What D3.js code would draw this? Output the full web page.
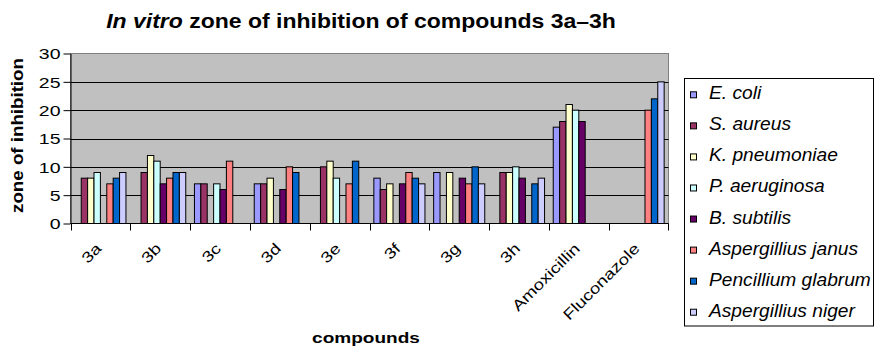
<!DOCTYPE html>
<html>
<head>
<meta charset="utf-8">
<script src="https://cdn.jsdelivr.net/npm/d3@7"></script>
<style>
  html, body { margin: 0; padding: 0; background: #fff; }
  svg { display: block; font-family: "Liberation Sans", Arial, sans-serif; }
</style>
</head>
<body>
<svg id="chart" width="875" height="348"></svg>
<script>
// Compounds tested and reference drugs
const categories = ["3a", "3b", "3c", "3d", "3e", "3f", "3g", "3h", "Amoxicillin", "Fluconazole"];

// Organisms (one bar series each)
const seriesNames = ["E. coli", "S. aureus", "K. pneumoniae", "P. aeruginosa",
  "B. subtilis", "Aspergillius janus", "Pencillium glabrum", "Aspergillius niger"];

// Zone of inhibition per organism, in category order (null = not tested)
const eColi        = [null, null, 7, 7, null, 8, 9, null, 17, null];
const sAureus      = [8, 9, 7, 7, 10, 6, null, 9, 18, null];
const kPneumoniae  = [8, 12, null, 8, 11, 7, 9, 9, 21, null];
const pAeruginosa  = [9, 11, 7, null, 8, null, null, 10, 20, null];
const bSubtilis    = [null, 7, 6, 6, null, 7, 8, 8, 18, null];
const aJanus       = [7, 8, 11, 10, 7, 9, 7, null, null, 20];
const pGlabrum     = [8, 9, null, 9, 11, 8, 10, 7, null, 22];
const aNiger       = [9, 9, null, null, null, 7, 7, 8, null, 25];

const yTicks = [0, 5, 10, 15, 20, 25, 30];
const colors = ["#9999FF", "#993366", "#FFFFCC", "#CCFFFF", "#660066", "#FF8080", "#0066CC", "#CCCCFF"];

const seriesValues = [eColi, sAureus, kPneumoniae, pAeruginosa, bSubtilis, aJanus, pGlabrum, aNiger];

const svg = d3.select("#chart");
const plot = { left: 70.5, right: 668.5, top: 53.5, bottom: 223.5 };

const x = d3.scaleBand().domain(categories).range([plot.left, plot.right]).paddingInner(0).paddingOuter(0);
const xs = d3.scaleBand().domain(seriesNames).range([0, x.bandwidth()]).paddingInner(0).paddingOuter(0.68);
const y = d3.scaleLinear().domain([0, 30]).range([plot.bottom, plot.top]);
const color = d3.scaleOrdinal().domain(seriesNames).range(colors);

// Plot area background
svg.append("rect")
  .attr("x", plot.left).attr("y", plot.top)
  .attr("width", plot.right - plot.left).attr("height", plot.bottom - plot.top)
  .attr("fill", "#C0C0C0").attr("stroke", "#808080").attr("stroke-width", 1);

// Horizontal gridlines
svg.append("g").selectAll("line")
  .data(yTicks.filter(d => d > 0 && d < 30))
  .join("line")
  .attr("x1", plot.left).attr("x2", plot.right)
  .attr("y1", d => Math.round(y(d)) + 0.5).attr("y2", d => Math.round(y(d)) + 0.5)
  .attr("stroke", "#000").attr("stroke-width", 1);

// Bars
const rows = [];
seriesNames.forEach((s, i) => {
  seriesValues[i].forEach((v, j) => {
    if (v != null) rows.push({ series: s, cat: categories[j], value: v });
  });
});
svg.append("g").selectAll("rect")
  .data(rows)
  .join("rect")
  .attr("x", d => x(d.cat) + xs(d.series))
  .attr("y", d => y(d.value))
  .attr("width", xs.bandwidth())
  .attr("height", d => y(0) - y(d.value))
  .attr("fill", d => color(d.series))
  .attr("stroke", "#000").attr("stroke-width", 1);

// Y axis
const yAxis = svg.append("g")
  .attr("transform", `translate(${plot.left},0)`)
  .call(d3.axisLeft(y).tickValues(yTicks).tickSize(7).tickSizeOuter(0));
yAxis.select(".domain").attr("stroke", "#000");
yAxis.selectAll(".tick line").attr("stroke", "#000");
yAxis.selectAll(".tick text")
  .attr("x", 0).attr("dy", "0.36em")
  .attr("transform", "translate(-10,0) scale(1.3,1)")
  .attr("font-size", 15).attr("fill", "#000")
  .attr("font-family", "Liberation Sans, Arial, sans-serif");

// X axis: line, boundary ticks, rotated category labels
svg.append("line")
  .attr("x1", plot.left).attr("x2", plot.right)
  .attr("y1", plot.bottom).attr("y2", plot.bottom)
  .attr("stroke", "#000");
const bounds = categories.map(c => x(c)).concat([x(categories[categories.length - 1]) + x.bandwidth()]);
svg.append("g").selectAll("line")
  .data(bounds)
  .join("line")
  .attr("x1", d => Math.round(d) + 0.5).attr("x2", d => Math.round(d) + 0.5)
  .attr("y1", plot.bottom).attr("y2", plot.bottom + 7)
  .attr("stroke", "#000");
svg.append("g").selectAll("text")
  .data(categories)
  .join("text")
  .attr("transform", d => `translate(${x(d) + x.bandwidth() / 2 + 2},${plot.bottom + 26}) rotate(-45) scale(1.25,1)`)
  .attr("text-anchor", "end")
  .attr("font-size", 15)
  .text(d => d);

// Title
const title = svg.append("text")
  .attr("transform", "translate(361,28) scale(1.15,1)")
  .attr("text-anchor", "middle")
  .attr("font-size", 20).attr("font-weight", "bold");
title.append("tspan").attr("font-style", "italic").text("In vitro");
title.append("tspan").text(" zone of inhibition of compounds 3a\u20133h");

// Axis titles
svg.append("text")
  .attr("transform", "translate(23,135.5) rotate(-90) scale(1.17,1)")
  .attr("text-anchor", "middle")
  .attr("font-size", 16).attr("font-weight", "bold")
  .text("zone of inhibition");
svg.append("text")
  .attr("transform", "translate(366,343) scale(1.27,1)")
  .attr("text-anchor", "middle")
  .attr("font-size", 15).attr("font-weight", "bold")
  .text("compounds");

// Legend
const legend = svg.append("g");
legend.append("rect")
  .attr("x", 684.5).attr("y", 78.5).attr("width", 189).attr("height", 247.5)
  .attr("fill", "#fff").attr("stroke", "#000");
const item = legend.selectAll("g.item")
  .data(seriesNames)
  .join("g").attr("class", "item")
  .attr("transform", (d, i) => `translate(0,${99.3 + i * 31.06})`);
item.append("rect")
  .attr("x", 690.5).attr("y", -7.5).attr("width", 6).attr("height", 6)
  .attr("fill", d => color(d)).attr("stroke", "#000");
item.append("text")
  .attr("transform", "translate(709,0) scale(1.065,1)")
  .attr("font-size", 18).attr("font-style", "italic")
  .text(d => d);
</script>
</body>
</html>
